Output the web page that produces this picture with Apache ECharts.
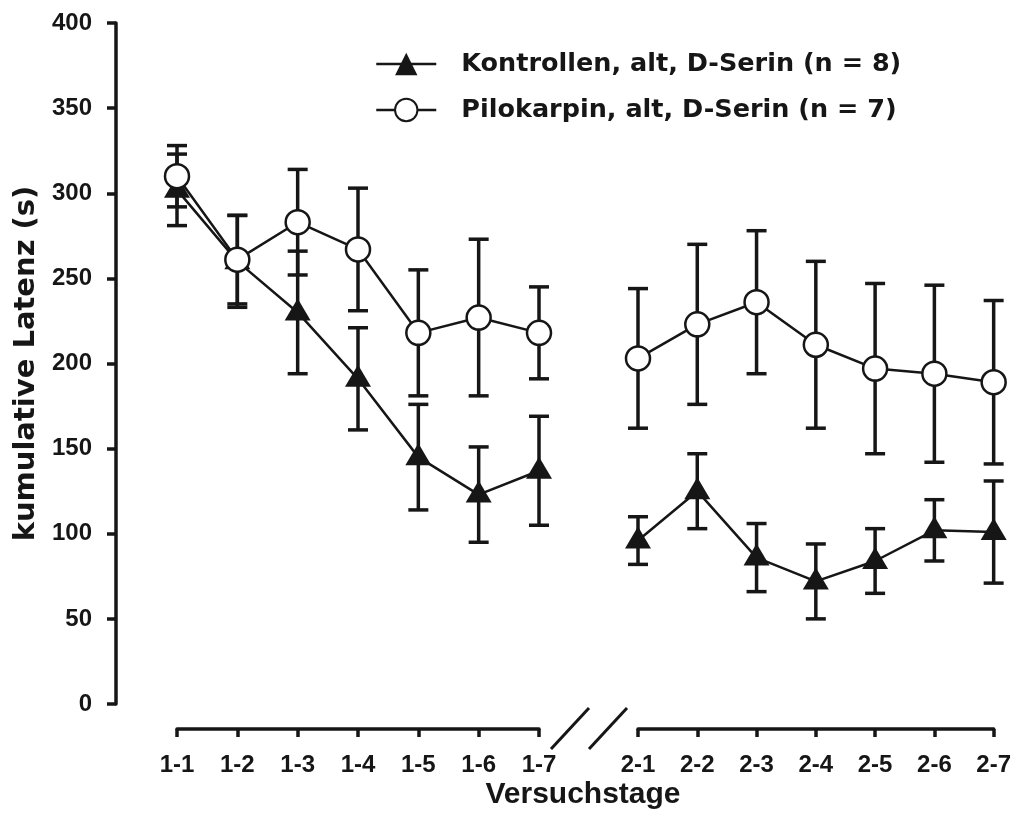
<!DOCTYPE html>
<html>
<head>
<meta charset="utf-8">
<script src="https://cdn.jsdelivr.net/npm/echarts@6/dist/echarts.min.js"></script>
<style>
  html, body { margin: 0; padding: 0; background: #fff; }
  #chart { width: 1014px; height: 814px; }
</style>
</head>
<body>
<div id="chart"></div>
<script>
// categories (two blocks of test days, axis is broken between them)
var days1 = ['1-1', '1-2', '1-3', '1-4', '1-5', '1-6', '1-7'];
var days2 = ['2-1', '2-2', '2-3', '2-4', '2-5', '2-6', '2-7'];

// Kontrollen, alt, D-Serin (n = 8): mean and error
var kontrolleMean1 = [302, 260, 230, 191, 145, 123, 137];
var kontrolleErr1 = [21, 27, 36, 30, 31, 28, 32];
var kontrolleMean2 = [96, 125, 86, 72, 84, 102, 101];
var kontrolleErr2 = [14, 22, 20, 22, 19, 18, 30];

// Pilokarpin, alt, D-Serin (n = 7): mean and error
var piloMean1 = [310, 261, 283, 267, 218, 227, 218];
var piloErr1 = [18, 26, 31, 36, 37, 46, 27];
var piloMean2 = [203, 223, 236, 211, 197, 194, 189];
var piloErr2 = [41, 47, 42, 49, 50, 52, 48];

var INK = '#161616';
var FONT = "'Liberation Sans', Arial, sans-serif";
var WIDE = "'DejaVu Sans', sans-serif";

function errData(mean, err) {
  return mean.map(function (m, i) { return [i, m - err[i], m + err[i]]; });
}

function renderErr(params, api) {
  var x = api.value(0);
  var top = api.coord([x, api.value(2)]);
  var bot = api.coord([x, api.value(1)]);
  var half = 10;
  var st = { stroke: INK, lineWidth: 3.5 };
  return {
    type: 'group',
    children: [
      { type: 'line', shape: { x1: top[0], y1: top[1], x2: bot[0], y2: bot[1] }, style: st },
      { type: 'line', shape: { x1: top[0] - half, y1: top[1], x2: top[0] + half, y2: top[1] }, style: st },
      { type: 'line', shape: { x1: bot[0] - half, y1: bot[1], x2: bot[0] + half, y2: bot[1] }, style: st }
    ]
  };
}

function xAxisFor(grid, cats) {
  return {
    type: 'category', gridIndex: grid, data: cats, boundaryGap: false,
    offset: 25,
    axisLine: { onZero: false, lineStyle: { color: INK, width: 3.5 } },
    axisTick: { length: 8, lineStyle: { color: INK, width: 3.5 } },
    axisLabel: { color: INK, fontFamily: FONT, fontWeight: 'bold', fontSize: 24, margin: 24 },
    splitLine: { show: false }
  };
}

function yAxisFor(grid, visible) {
  return {
    type: 'value', gridIndex: grid, min: 0, max: 400, interval: 50,
    show: visible,
    offset: 61,
    name: visible ? 'kumulative Latenz (s)' : '',
    nameLocation: 'middle', nameGap: 75, nameRotate: 90,
    nameTextStyle: { color: INK, fontFamily: WIDE, fontWeight: 'bold', fontSize: 29 },
    axisLine: { show: true, onZero: false, lineStyle: { color: INK, width: 3.5 } },
    axisTick: { show: true, length: 9, lineStyle: { color: INK, width: 3.5 } },
    axisLabel: { color: INK, fontFamily: FONT, fontWeight: 'bold', fontSize: 24, margin: 24 },
    splitLine: { show: false }
  };
}

function lineSeries(name, grid, data, isCircle) {
  return {
    name: name, type: 'line', xAxisIndex: grid, yAxisIndex: grid,
    data: data,
    symbol: isCircle ? 'circle' : 'triangle',
    symbolSize: isCircle ? 24 : [26, 22],
    symbolOffset: isCircle ? [0, 0] : [0, -3],
    showAllSymbol: true,
    z: isCircle ? 5 : 4,
    lineStyle: { color: INK, width: 2.5 },
    itemStyle: isCircle ? { color: '#ffffff', borderColor: INK, borderWidth: 2.5 }
                        : { color: INK, borderColor: INK, borderWidth: 0 }
  };
}

function errSeries(grid, mean, err) {
  return {
    type: 'custom', xAxisIndex: grid, yAxisIndex: grid,
    renderItem: renderErr, data: errData(mean, err), z: 2, silent: true
  };
}

var KON = 'Kontrollen, alt, D-Serin (n = 8)';
var PILO = 'Pilokarpin, alt, D-Serin (n = 7)';

var myChart = echarts.init(document.getElementById('chart'), null, { renderer: 'canvas' });

var option = {
  animation: false,
  backgroundColor: '#ffffff',
  grid: [
    { left: 177, top: 23, width: 362, height: 681 },
    { left: 638, top: 23, width: 362, height: 681 }
  ],
  xAxis: [xAxisFor(0, days1), xAxisFor(1, days2)],
  yAxis: [yAxisFor(0, true), yAxisFor(1, false)],
  legend: {
    data: [KON, PILO],
    orient: 'vertical', left: 375, top: 50, padding: 0,
    itemWidth: 60, itemHeight: 28, itemGap: 18,
    lineStyle: { width: 2.5, color: INK },
    textStyle: { color: INK, fontFamily: WIDE, fontWeight: 'bold', fontSize: 25.5, lineHeight: 28, padding: [0, 0, 0, 20] }
  },
  graphic: [
    { type: 'line', shape: { x1: 551, y1: 749, x2: 589, y2: 708 }, style: { stroke: INK, lineWidth: 3 } },
    { type: 'line', shape: { x1: 589, y1: 749, x2: 627, y2: 708 }, style: { stroke: INK, lineWidth: 3 } },
    { type: 'text', x: 583, y: 795,
      style: { text: 'Versuchstage', fill: INK, font: "bold 30px 'Liberation Sans', Arial, sans-serif", align: 'center', verticalAlign: 'middle' } }
  ],
  series: [
    errSeries(0, kontrolleMean1, kontrolleErr1),
    errSeries(0, piloMean1, piloErr1),
    errSeries(1, kontrolleMean2, kontrolleErr2),
    errSeries(1, piloMean2, piloErr2),
    lineSeries(KON, 0, kontrolleMean1, false),
    lineSeries(KON, 1, kontrolleMean2, false),
    lineSeries(PILO, 0, piloMean1, true),
    lineSeries(PILO, 1, piloMean2, true)
  ]
};

myChart.setOption(option);
</script>
</body>
</html>
